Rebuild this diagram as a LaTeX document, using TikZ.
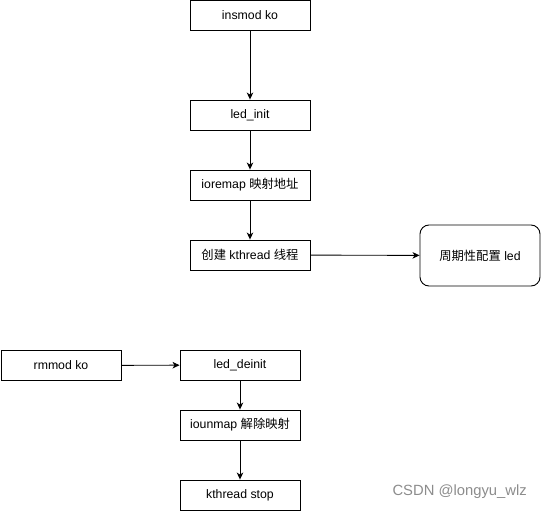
\documentclass[tikz,border=0pt]{standalone}
\usepackage{fontspec}
\setmainfont{Liberation Sans}
\newfontfamily\cjk{Noto Sans CJK SC}
\usetikzlibrary{arrows.meta}
\begin{document}
\begin{tikzpicture}[x=1pt,y=-1pt,
  box/.style={draw,line width=0.9pt,minimum width=120pt,minimum height=30pt,inner sep=0pt,font=\fontsize{12.3}{14}\selectfont},
  rbox/.style={box,rounded corners=9pt,minimum height=61pt},
  arr/.style={line width=0.9pt,-{Stealth[length=7pt,width=6.5pt,inset=2pt]}}]
\useasboundingbox (0,0) rectangle (541,511);
\node[box] (ins) at (250,15) {insmod ko};
\node[box] (init) at (250,115) {led\_init};
\node[box] (iorm) at (250,185) {ioremap {\cjk 映射地址}};
\node[box] (kth) at (250,255) {{\cjk 创建} kthread {\cjk 线程}};
\node[rbox] (led) at (480,255.5) {{\cjk 周期性配置} led};
\node[box] (rm) at (61,365.5) {rmmod ko};
\node[box] (deinit) at (240,365) {led\_deinit};
\node[box] (ioum) at (240,425) {iounmap {\cjk 解除映射}};
\node[box] (stop) at (240,495) {kthread stop};
\draw[arr] (ins) -- (init);
\draw[arr] (init) -- (iorm);
\draw[arr] (iorm) -- (kth);
\draw[arr] (kth) -- (led);
\draw[arr] (rm) -- (deinit);
\draw[arr] (deinit) -- (ioum);
\draw[arr] (ioum) -- (stop);
\node[text=black!45,font=\fontsize{14.8}{16}\selectfont,anchor=east,inner sep=0pt] (wm) at (527,492) {CSDN @longyu\_wlz};
\end{tikzpicture}
\end{document}
